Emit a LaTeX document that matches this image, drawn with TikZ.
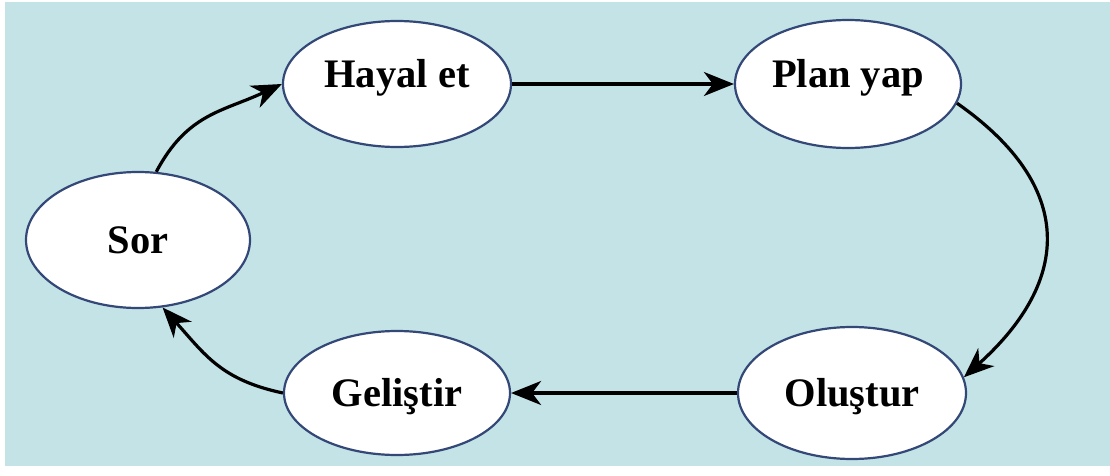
\documentclass[tikz,border=0pt]{standalone}
\usepackage{fontspec}
\setmainfont{Liberation Serif}
\usetikzlibrary{arrows.meta,shapes.geometric}
\definecolor{bgblue}{RGB}{196,227,231}
\definecolor{rim}{RGB}{52,72,120}
\tikzset{
  stage/.style={ellipse, draw=rim, line width=2.2pt, fill=white, inner sep=0pt,
    font=\fontsize{40.5}{44}\selectfont\bfseries, text height=27pt, text depth=0pt},
  highstage/.style={stage, text depth=20pt},
  flow/.style={line width=3.2pt, -{Stealth[length=30pt,width=24pt,inset=9pt]}}
}
\begin{document}
\begin{tikzpicture}[x=1pt,y=1pt]
\useasboundingbox (0,0) rectangle (1110,475);
\fill[bgblue] (5,9) rectangle (1110,473);
\node[stage, minimum width=224pt, minimum height=136pt] (sor) at (138,235) {Sor};
\node[highstage, minimum width=228pt, minimum height=126pt] (hayal) at (397,391) {Hayal et};
\node[highstage, minimum width=226pt, minimum height=128pt] (plan) at (848,391) {Plan yap};
\node[stage, minimum width=228pt, minimum height=132pt] (olus) at (852,82) {Oluştur};
\node[stage, minimum width=226pt, minimum height=124pt] (gelis) at (397,82) {Geliştir};
\draw[flow] (sor.75) to[out=62,in=205,looseness=1.1] (hayal.west);
\draw[flow] (hayal.east) -- (plan.west);
\draw[flow] (plan.-10) to[out=-35,in=42,distance=145pt] (olus.8);
\draw[flow] (olus.west) -- (gelis.east);
\draw[flow] (gelis.west) to[out=168,in=-48,looseness=1.1] (sor.-70);
\end{tikzpicture}
\end{document}
